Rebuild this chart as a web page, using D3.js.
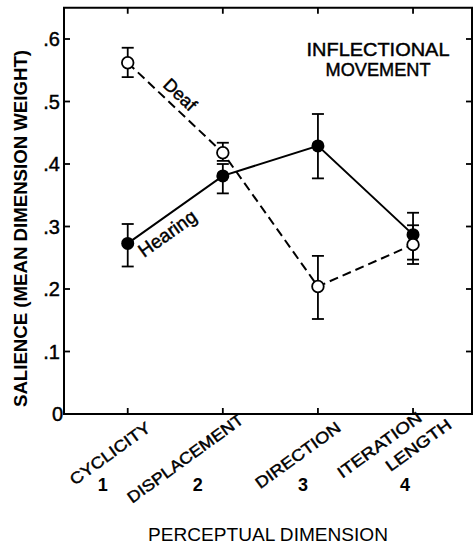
<!DOCTYPE html>
<html>
<head>
<meta charset="utf-8">
<script src="https://cdn.jsdelivr.net/npm/d3@7"></script>
<style>
  body { margin: 0; background: #fff; }
  svg { display: block; }
  text { font-family: "Liberation Sans", Arial, Helvetica, sans-serif; fill: #000; }
  text.heavy { stroke: #000; stroke-width: 0.45px; }
</style>
</head>
<body>
<svg id="chart" width="474" height="547"></svg>
<script>
// ---- data ----
const dimensions = [1, 2, 3, 4];
const categoryLabels = [["CYCLICITY"], ["DISPLACEMENT"], ["DIRECTION"], ["ITERATION", "LENGTH"]];
const deafValues = [0.562, 0.418, 0.204, 0.271];
const deafLow = [0.539, 0.405, 0.152, 0.240];
const deafHigh = [0.586, 0.434, 0.253, 0.302];
const hearingValues = [0.273, 0.381, 0.429, 0.287];
const hearingLow = [0.236, 0.353, 0.377, 0.247];
const hearingHigh = [0.304, 0.400, 0.480, 0.322];
const yTicks = [0, 0.1, 0.2, 0.3, 0.4, 0.5, 0.6];
const yTickLabels = ["0", ".1", ".2", ".3", ".4", ".5", ".6"];
const title = ["INFLECTIONAL", "MOVEMENT"];
const xTitle = "PERCEPTUAL DIMENSION";
const yTitle = "SALIENCE (MEAN DIMENSION WEIGHT)";

// ---- layout ----
const svg = d3.select("#chart");
const pLeft = 64, pRight = 472, pTop = 7.75, pBottom = 414;
const x = d3.scaleLinear().domain([0.33, 4.62]).range([pLeft, pRight]);
const y = d3.scaleLinear().domain([0, 0.65]).range([pBottom, pTop]);

// frame
svg.append("rect").attr("x", pLeft).attr("y", pTop)
  .attr("width", pRight - pLeft).attr("height", pBottom - pTop)
  .attr("fill", "none").attr("stroke", "#000").attr("stroke-width", 2);

// inward ticks
const tl = 6;
svg.append("g").selectAll("line").data(yTicks.filter(d => d > 0)).join("line")
  .attr("x1", pLeft).attr("x2", pLeft + tl).attr("y1", d => y(d)).attr("y2", d => y(d))
  .attr("stroke", "#000").attr("stroke-width", 1.8);
svg.append("g").selectAll("line").data(yTicks.filter(d => d > 0)).join("line")
  .attr("x1", pRight).attr("x2", pRight - tl).attr("y1", d => y(d)).attr("y2", d => y(d))
  .attr("stroke", "#000").attr("stroke-width", 1.8);
svg.append("g").selectAll("line").data(dimensions).join("line")
  .attr("x1", d => x(d)).attr("x2", d => x(d)).attr("y1", pBottom).attr("y2", pBottom - tl)
  .attr("stroke", "#000").attr("stroke-width", 1.8);
svg.append("g").selectAll("line").data(dimensions).join("line")
  .attr("x1", d => x(d)).attr("x2", d => x(d)).attr("y1", pTop).attr("y2", pTop + tl)
  .attr("stroke", "#000").attr("stroke-width", 1.8);

// y tick labels
svg.append("g").selectAll("text").data(yTicks).join("text")
  .attr("class", "heavy")
  .attr("x", (d, i) => i === 0 ? 63 : 60)
  .attr("y", d => y(d) + 7)
  .attr("text-anchor", "end")
  .style("font-size", "20px")
  .text((d, i) => yTickLabels[i]);

// y title
svg.append("text")
  .attr("transform", `translate(27,${(50 + 407) / 2}) rotate(-90)`)
  .attr("text-anchor", "middle")
  .attr("textLength", 357).attr("lengthAdjust", "spacingAndGlyphs")
  .style("font-size", "18.5px").style("font-weight", "bold")
  .text(yTitle);

// x category labels (rotated)
const catOffsets = [[24, 430], [22, 422], [24, 430], [10, 420]];
const catLens = [[95], [139], [101], [100, 77]];
categoryLabels.forEach((lines, i) => {
  const g = svg.append("g")
    .attr("transform", `translate(${x(dimensions[i]) + catOffsets[i][0]},${catOffsets[i][1]}) rotate(-36)`);
  lines.forEach((t, j) => {
    g.append("text")
      .attr("class", "heavy")
      .attr("x", j * 20).attr("y", j * 23)
      .attr("text-anchor", "end")
      .attr("textLength", catLens[i][j]).attr("lengthAdjust", "spacingAndGlyphs")
      .style("font-size", "16px")
      .text(t);
  });
});
// dimension numbers
const numShift = [-25, -25, -15, -8];
svg.append("g").selectAll("text").data(dimensions).join("text")
  .attr("x", (d, i) => x(d) + numShift[i])
  .attr("y", 491)
  .attr("text-anchor", "middle")
  .style("font-size", "18px").style("font-weight", "bold")
  .text(d => d);

// x title
svg.append("text")
  .attr("x", 268).attr("y", 541)
  .attr("text-anchor", "middle")
  .attr("textLength", 240).attr("lengthAdjust", "spacingAndGlyphs")
  .style("font-size", "19px")
  .text(xTitle);

// chart title
svg.append("text").attr("class", "heavy").attr("x", 378).attr("y", 56).attr("text-anchor", "middle")
  .attr("textLength", 143).attr("lengthAdjust", "spacingAndGlyphs")
  .style("font-size", "19px").text(title[0]);
svg.append("text").attr("class", "heavy").attr("x", 378).attr("y", 76).attr("text-anchor", "middle")
  .attr("textLength", 105).attr("lengthAdjust", "spacingAndGlyphs")
  .style("font-size", "19px").text(title[1]);

// lines
const line = d3.line().x(d => x(d[0])).y(d => y(d[1]));
const hearingPts = dimensions.map((d, i) => [d, hearingValues[i]]);
const deafPts = dimensions.map((d, i) => [d, deafValues[i]]);
svg.append("path").attr("d", line(hearingPts)).attr("fill", "none")
  .attr("stroke", "#000").attr("stroke-width", 2);
svg.append("path").attr("d", line(deafPts)).attr("fill", "none")
  .attr("stroke", "#000").attr("stroke-width", 2).attr("stroke-dasharray", "9,5");

// error bars
function errorBars(lo, hi) {
  const g = svg.append("g").attr("stroke", "#000").attr("stroke-width", 1.8);
  dimensions.forEach((d, i) => {
    g.append("line").attr("x1", x(d)).attr("x2", x(d)).attr("y1", y(lo[i])).attr("y2", y(hi[i]));
    g.append("line").attr("x1", x(d) - 6).attr("x2", x(d) + 6).attr("y1", y(lo[i])).attr("y2", y(lo[i]));
    g.append("line").attr("x1", x(d) - 6).attr("x2", x(d) + 6).attr("y1", y(hi[i])).attr("y2", y(hi[i]));
  });
}
errorBars(hearingLow, hearingHigh);
errorBars(deafLow, deafHigh);

// markers
svg.append("g").selectAll("circle").data(hearingPts).join("circle")
  .attr("cx", d => x(d[0])).attr("cy", d => y(d[1])).attr("r", 6.5)
  .attr("fill", "#000");
svg.append("g").selectAll("circle").data(deafPts).join("circle")
  .attr("cx", d => x(d[0])).attr("cy", d => y(d[1])).attr("r", 5.8)
  .attr("fill", "#fff").attr("stroke", "#000").attr("stroke-width", 1.8);

// series labels
const hAng = Math.atan2(y(hearingValues[1]) - y(hearingValues[0]), x(2) - x(1)) * 180 / Math.PI;
svg.append("text")
  .attr("class", "heavy")
  .attr("transform", `translate(144,258) rotate(${hAng})`)
  .style("font-size", "19px")
  .text("Hearing");
const dAng = Math.atan2(y(deafValues[1]) - y(deafValues[0]), x(2) - x(1)) * 180 / Math.PI;
svg.append("text")
  .attr("class", "heavy")
  .attr("transform", `translate(162,86) rotate(${dAng})`)
  .style("font-size", "18px")
  .text("Deaf");
</script>
</body>
</html>
